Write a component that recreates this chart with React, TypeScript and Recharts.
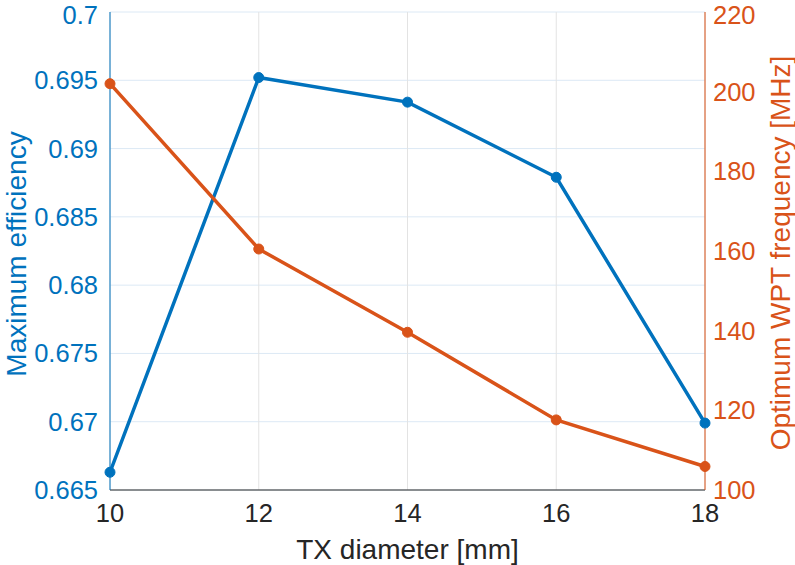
import { LineChart, Line, XAxis, YAxis, CartesianGrid } from 'recharts';

const diameters = [10, 12, 14, 16, 18];
const efficiency = [0.6663, 0.6952, 0.6934, 0.6879, 0.6699];
const frequency = [202.0, 160.5, 139.6, 117.6, 105.9];
const xTicks = [10, 12, 14, 16, 18];
const effTicks = [0.665, 0.67, 0.675, 0.68, 0.685, 0.69, 0.695, 0.7];
const freqTicks = [100, 120, 140, 160, 180, 200, 220];

const BLUE = '#0072BD';
const ORANGE = '#D95319';
const DARK = '#262626';
const FONT = '"Liberation Sans", Arial, Helvetica, sans-serif';
const TICK_SIZE = 25.5;
const LABEL_SIZE = 28;

export default function App() {
  const data = diameters.map((d, i) => ({
    d,
    eff: efficiency[i],
    freq: frequency[i],
  }));

  return (
    <div style={{ position: 'absolute', left: 0, top: 0, width: 795, height: 565, background: '#fff', fontFamily: FONT }}>
      <LineChart width={795} height={565} data={data} margin={{ top: 12, right: 0, bottom: 0, left: 0 }}>
        <CartesianGrid yAxisId="left" xAxisId="bottom" vertical={false} stroke="#dce9f5" strokeWidth={1} />
        <CartesianGrid yAxisId="left" xAxisId="bottom" horizontal={false} stroke="#e3e3e3" strokeWidth={1} />
        <XAxis
          xAxisId="bottom"
          dataKey="d"
          type="number"
          domain={[10, 18]}
          ticks={xTicks}
          height={75}
          stroke={DARK}
          tickLine={false}
          tickSize={0}
          tickMargin={14}
          tick={{ fill: DARK, fontSize: TICK_SIZE, fontFamily: FONT }}
          label={{ value: 'TX diameter [mm]', position: 'center', dy: 22, fill: DARK, fontSize: LABEL_SIZE, fontFamily: FONT }}
        />
        <XAxis
          xAxisId="top"
          dataKey="d"
          type="number"
          domain={[10, 18]}
          ticks={xTicks}
          orientation="top"
          height={0}
          stroke={DARK}
          tick={false}
          tickLine={false}
        />
        <YAxis
          yAxisId="left"
          type="number"
          domain={[0.665, 0.7]}
          ticks={effTicks}
          width={110}
          stroke={BLUE}
          tickLine={false}
          tickSize={0}
          tickMargin={12}
          tick={{ fill: BLUE, fontSize: TICK_SIZE, fontFamily: FONT }}
          tickFormatter={(v: number) => String(Number(v.toFixed(3)))}
          label={{ value: 'Maximum efficiency', angle: -90, position: 'center', dx: -39, dy: 3, fill: BLUE, fontSize: LABEL_SIZE, fontFamily: FONT }}
        />
        <YAxis
          yAxisId="right"
          orientation="right"
          type="number"
          domain={[100, 220]}
          ticks={freqTicks}
          width={90}
          stroke={ORANGE}
          tickLine={false}
          tickSize={0}
          tickMargin={8}
          tick={{ fill: ORANGE, fontSize: TICK_SIZE, fontFamily: FONT }}
          label={{ value: 'Optimum WPT frequency [MHz]', angle: -90, position: 'center', dx: 30, dy: 2, fill: ORANGE, fontSize: LABEL_SIZE, fontFamily: FONT }}
        />
        <Line
          xAxisId="bottom"
          yAxisId="left"
          dataKey="eff"
          stroke={BLUE}
          strokeWidth={3.5}
          dot={{ r: 5, fill: BLUE, stroke: BLUE, strokeWidth: 1 }}
          isAnimationActive={false}
        />
        <Line
          xAxisId="bottom"
          yAxisId="right"
          dataKey="freq"
          stroke={ORANGE}
          strokeWidth={3.5}
          dot={{ r: 5, fill: ORANGE, stroke: ORANGE, strokeWidth: 1 }}
          isAnimationActive={false}
        />
      </LineChart>
    </div>
  );
}
